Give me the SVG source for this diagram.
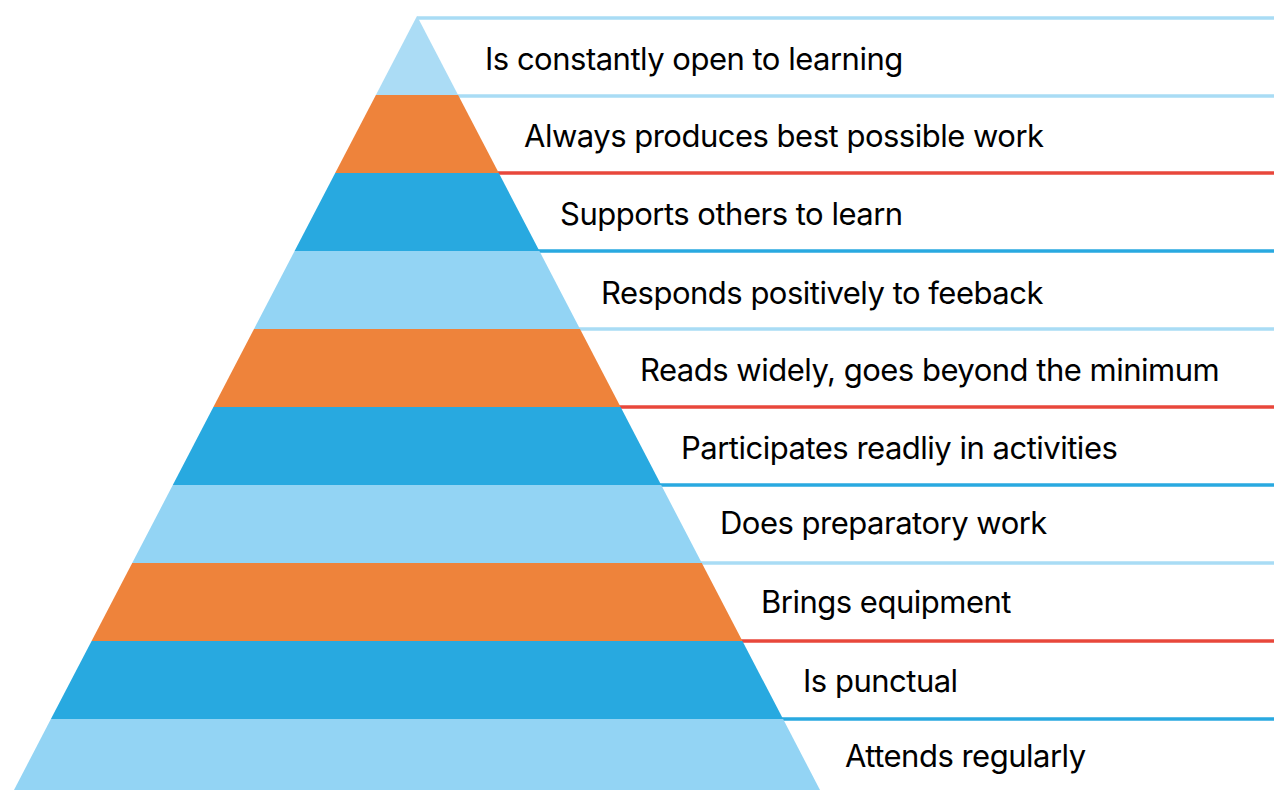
<svg xmlns="http://www.w3.org/2000/svg" width="1274" height="790" viewBox="0 0 1274 790">
<style>
.lb{fill:#93d4f4}.top{fill:#abdcf5}.or{fill:#ee833b}.bl{fill:#28a9e0}
.rl{stroke-width:3.5;fill:none}
.sl{stroke:#a9dcf5}.sr{stroke:#e8473b}.sb{stroke:#29a9e0}
text{font-family:Inter,"Liberation Sans",sans-serif;font-size:31px;fill:#000;letter-spacing:-0.5px}
</style>
<rect width="1274" height="790" fill="#fff"/>
<g id="rules">
<line class="rl sl" x1="417" y1="18" x2="1274" y2="18"/>
<line class="rl sl" x1="457" y1="96" x2="1274" y2="96"/>
<line class="rl sr" x1="498" y1="173" x2="1274" y2="173"/>
<line class="rl sb" x1="538" y1="251" x2="1274" y2="251"/>
<line class="rl sl" x1="579" y1="329" x2="1274" y2="329"/>
<line class="rl sr" x1="619" y1="407" x2="1274" y2="407"/>
<line class="rl sb" x1="660" y1="485" x2="1274" y2="485"/>
<line class="rl sl" x1="701" y1="563" x2="1274" y2="563"/>
<line class="rl sr" x1="741" y1="641" x2="1274" y2="641"/>
<line class="rl sb" x1="782" y1="719" x2="1274" y2="719"/>
</g>
<g id="level10"><polygon class="top" points="417,16 458.1,95 375.9,95"/><text x="485" y="70">Is constantly open to learning</text></g>
<g id="level9"><polygon class="or" points="375.9,95 458.1,95 498.8,173 335.2,173"/><text x="524" y="147">Always produces best possible work</text></g>
<g id="level8"><polygon class="bl" points="335.2,173 498.8,173 539.4,251 294.6,251"/><text x="560" y="225">Supports others to learn</text></g>
<g id="level7"><polygon class="lb" points="294.6,251 539.4,251 580,329 254,329"/><text x="601" y="304">Responds positively to feeback</text></g>
<g id="level6"><polygon class="or" points="254,329 580,329 620.6,407 213.4,407"/><text x="640" y="381">Reads widely, goes beyond the minimum</text></g>
<g id="level5"><polygon class="bl" points="213.4,407 620.6,407 661.2,485 172.8,485"/><text x="681" y="459">Participates readliy in activities</text></g>
<g id="level4"><polygon class="lb" points="172.8,485 661.2,485 701.8,563 132.2,563"/><text x="720" y="534">Does preparatory work</text></g>
<g id="level3"><polygon class="or" points="132.2,563 701.8,563 742.4,641 91.6,641"/><text x="761" y="613">Brings equipment</text></g>
<g id="level2"><polygon class="bl" points="91.6,641 742.4,641 783.1,719 50.9,719"/><text x="803" y="692">Is punctual</text></g>
<g id="level1"><polygon class="lb" points="50.9,719 783.1,719 820,790 14,790"/><text x="845" y="767">Attends regularly</text></g>
</svg>
